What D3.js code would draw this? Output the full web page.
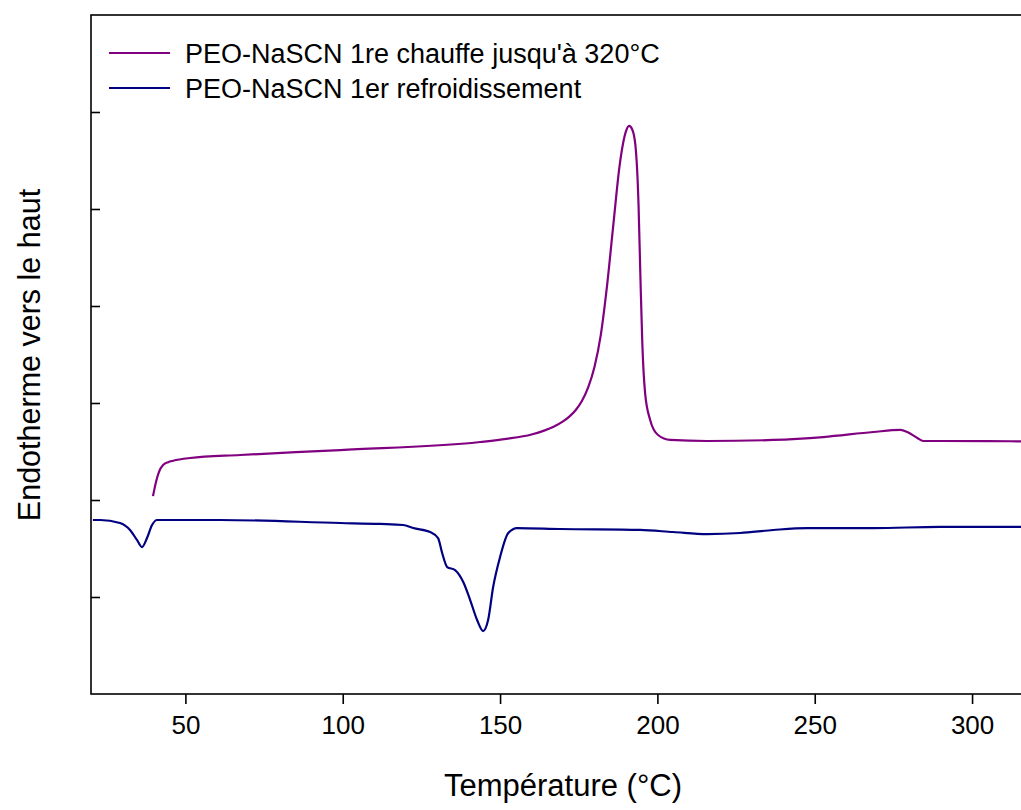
<!DOCTYPE html>
<html>
<head>
<meta charset="utf-8">
<script src="https://cdn.jsdelivr.net/npm/d3@7"></script>
<style>
  html, body { margin: 0; padding: 0; background: #fff; }
  svg { display: block; font-family: "Liberation Sans", Arial, sans-serif; }
</style>
</head>
<body>
<svg id="chart" width="1021" height="810"></svg>
<script>
// ---- Data ----
const xTicks = [50, 100, 150, 200, 250, 300];
const yTicks = [1, 2, 3, 4, 5, 6];

const seriesNames = ["PEO-NaSCN 1re chauffe jusqu'à 320°C", "PEO-NaSCN 1er refroidissement"];
const seriesColors = ["#800080", "#000080"];

// Heating curve: temperature (°C) and signal (arbitrary units)
const heatT = [39.7, 40.2, 40.7, 41.3, 42.0, 42.9, 44.5, 46.1, 51.5, 67.4, 99.2, 143.7, 152.0, 160.0,
  164.0, 167.0, 170.0, 172.0, 174.0, 176.0, 178.0, 180.0, 182.0, 184.0, 186.0, 188.0, 190.0, 191.0,
  192.0, 193.0, 194.0, 194.6, 195.2, 196.1, 197.7, 200.2, 204.1, 215.8, 236.8, 252.7, 268.6,
  277.2, 279.4, 282.6, 284.5, 289.9, 305.0, 320.0];
const heatY = [2.04, 2.12, 2.19, 2.26, 2.32, 2.36, 2.39, 2.405, 2.433, 2.464, 2.515, 2.598, 2.63, 2.675,
  2.715, 2.755, 2.81, 2.86, 2.925, 3.02, 3.16, 3.37, 3.70, 4.21, 4.84, 5.45, 5.80, 5.856,
  5.82, 5.66, 5.05, 4.30, 3.62, 3.10, 2.825, 2.67, 2.619, 2.608, 2.619, 2.649, 2.701,
  2.722, 2.701, 2.639, 2.608, 2.608, 2.606, 2.605];

// Cooling curve
const coolT = [20.6, 22.9, 29.2, 32.4, 34.6, 36.2, 37.8, 39.4, 41.0, 61.0, 99.2, 111.9,
  119.2, 122.4, 127.8, 130.3, 131.6, 133.2, 135.7, 138.3, 140.5, 142.7, 144.6, 146.2,
  147.8, 150.0, 152.6, 155.4, 169.1, 194.5, 205.0, 215.8, 226.3, 236.8, 247.6, 268.6,
  289.9, 320.0];
const coolY = [1.794, 1.794, 1.763, 1.691, 1.588, 1.515, 1.608, 1.742, 1.794, 1.794, 1.763, 1.753,
  1.742, 1.711, 1.67, 1.608, 1.454, 1.309, 1.278, 1.155, 0.969, 0.763, 0.649, 0.763,
  1.103, 1.412, 1.66, 1.711, 1.701, 1.691, 1.67, 1.649, 1.66, 1.691, 1.711, 1.711,
  1.722, 1.722];

// ---- Layout ----
const svg = d3.select("#chart");
const plotLeft = 91, plotRight = 1035, plotTop = 15, plotBottom = 694;

const x = d3.scaleLinear().domain([20, 320]).range([plotLeft, plotRight]);
const y = d3.scaleLinear().domain([0, 7]).range([plotBottom, plotTop]);

// Frame
svg.append("rect")
  .attr("x", plotLeft).attr("y", plotTop)
  .attr("width", plotRight - plotLeft).attr("height", plotBottom - plotTop)
  .attr("fill", "none").attr("stroke", "#000").attr("stroke-width", 1.6);

// X axis
const xAxis = d3.axisBottom(x).tickValues(xTicks).tickSize(10).tickSizeOuter(0).tickPadding(12);
const gx = svg.append("g").attr("transform", `translate(0,${plotBottom})`).call(xAxis);
gx.select(".domain").remove();
gx.selectAll(".tick line").attr("stroke", "#000").attr("stroke-width", 1.6);
gx.selectAll(".tick text").attr("font-size", 26).attr("fill", "#000")
  .attr("font-family", "'Liberation Sans', Arial, sans-serif");

// Y axis (ticks inward, no labels)
const yAxis = d3.axisLeft(y).tickValues(yTicks).tickSize(-9).tickSizeOuter(0).tickFormat("");
const gy = svg.append("g").attr("transform", `translate(${plotLeft},0)`).call(yAxis);
gy.select(".domain").remove();
gy.selectAll(".tick line").attr("stroke", "#000").attr("stroke-width", 1.6);

// Axis titles
svg.append("text")
  .attr("x", 563).attr("y", 796)
  .attr("text-anchor", "middle")
  .attr("font-size", 31)
  .text("Température (°C)");

svg.append("text")
  .attr("transform", "translate(40,355) rotate(-90)")
  .attr("text-anchor", "middle")
  .attr("font-size", 30.5)
  .text("Endotherme vers le haut");

// Curves
svg.append("clipPath").attr("id", "plotclip")
  .append("rect").attr("x", plotLeft).attr("y", plotTop)
  .attr("width", plotRight - plotLeft).attr("height", plotBottom - plotTop);

const line = d3.line()
  .x(d => x(d[0])).y(d => y(d[1]))
  .curve(d3.curveMonotoneX);

const series = [
  d3.zip(heatT, heatY),
  d3.zip(coolT, coolY)
];

svg.append("g").attr("clip-path", "url(#plotclip)")
  .selectAll("path.curve")
  .data(series)
  .join("path")
  .attr("class", "curve")
  .attr("d", line)
  .attr("fill", "none")
  .attr("stroke", (d, i) => seriesColors[i])
  .attr("stroke-width", 2.2)
  .attr("stroke-linejoin", "round");

// Legend
const legendY = [53, 88];
const lg = svg.append("g");
seriesNames.forEach((name, i) => {
  lg.append("line")
    .attr("x1", 109).attr("x2", 170)
    .attr("y1", legendY[i]).attr("y2", legendY[i])
    .attr("stroke", seriesColors[i]).attr("stroke-width", 2);
  lg.append("text")
    .attr("x", 185).attr("y", legendY[i] + 10)
    .attr("font-size", 27)
    .attr("fill", "#000")
    .text(name);
});
</script>
</body>
</html>
